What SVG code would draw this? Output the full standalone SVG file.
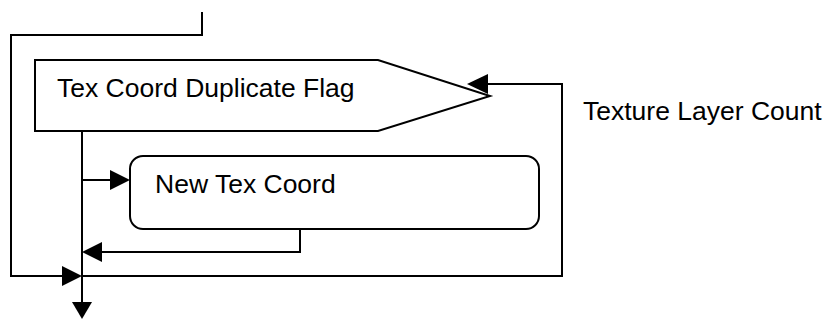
<svg xmlns="http://www.w3.org/2000/svg" width="829" height="320" viewBox="0 0 829 320">
<style>
.shape{fill:#fff;stroke:#000;stroke-width:2}
.line{fill:none;stroke:#000;stroke-width:2}
.lbl{font-family:"Liberation Sans",Arial,sans-serif;font-size:26.5px;fill:#000}
.ah{fill:#000;stroke:none}
</style>
<rect width="829" height="320" fill="#fff"/>
<g id="flag">
<polygon class="shape" points="35,60 378,60 490,96 378,131 35,131"/>
<text class="lbl" x="57" y="97">Tex Coord Duplicate Flag</text>
</g>
<g id="newtexcoord">
<rect class="shape" x="130" y="156" width="409" height="73" rx="13" ry="13"/>
<text class="lbl" x="155" y="193">New Tex Coord</text>
</g>
<g id="label-count">
<text class="lbl" x="583" y="120">Texture Layer Count</text>
</g>
<g id="connectors">
<polyline class="line" points="202,12 202,35 11,35 11,276 66,276"/>
<line class="line" x1="82" y1="131" x2="82" y2="303"/>
<polyline class="line" points="82,180 112,180"/>
<polyline class="line" points="300,229 300,252 100,252"/>
<polyline class="line" points="82,276 562,276 562,84 486,84"/>
<polygon class="ah" points="130,180 110,170 110,190"/>
<polygon class="ah" points="82,252 102,242 102,262"/>
<polygon class="ah" points="82,276 62,266 62,286"/>
<polygon class="ah" points="82,319 72,302 92,302"/>
<polygon class="ah" points="467,84 488,74 488,94"/>
</g>
</svg>
